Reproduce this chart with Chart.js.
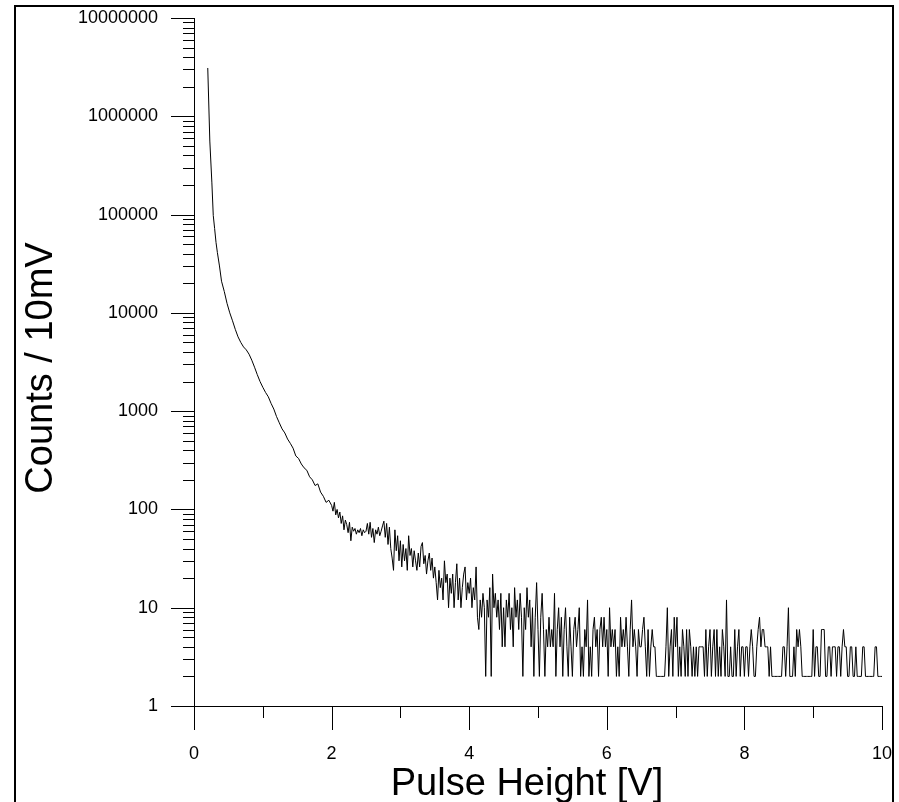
<!DOCTYPE html>
<html>
<head>
<meta charset="utf-8">
<script src="https://cdn.jsdelivr.net/npm/chart.js@4.4.1/dist/chart.umd.min.js"></script>
<style>
  html, body { margin: 0; padding: 0; background: #fff; }
  canvas { display: block; }
</style>
</head>
<body>
<canvas id="espectro" width="899" height="802"></canvas>
<script>
// steep part of the spectrum (V, counts / 10mV)
const headVolts = [0.20, 0.23, 0.26, 0.28, 0.30, 0.32, 0.34, 0.37, 0.40,
  0.44, 0.48, 0.52, 0.56, 0.60, 0.64, 0.68, 0.72, 0.76, 0.80, 0.84, 0.88, 0.92, 0.96, 1.00,
  1.04, 1.08, 1.12, 1.16, 1.20, 1.24, 1.28, 1.32, 1.36, 1.40, 1.44, 1.48, 1.52, 1.56, 1.60,
  1.64, 1.68, 1.72, 1.76, 1.80, 1.84, 1.88, 1.92, 1.96]
const headCounts = [3100000, 560000, 210000, 98000, 72000, 52000, 41000, 30000, 21000,
  16500, 12500, 10000, 8300, 6800, 5700, 5000, 4500, 4200, 3800, 3300, 2800, 2350, 2000, 1750,
  1550, 1400, 1200, 1050, 880, 760, 660, 600, 520, 470, 420, 350, 330, 290, 265,
  250, 215, 200, 175, 182, 150, 136, 118, 124]

// noisy tail, one value every 0.02 V from 2.00 V to 10.00 V
const tailStart = 2.0
const tailStep = 0.02
const tailCounts = [
  110, 96, 118, 88, 100, 82, 94, 72, 86, 62, 78, 70, 58, 74, 48, 66, 60, 64, 56, 62, 58, 64, 54, 62, 58,   // 2.0
  60, 72, 56, 74, 52, 64, 46, 62, 56, 66, 54, 60, 68, 76, 52, 72, 44, 66, 40, 32, 24, 62, 38, 54, 30,      // 2.5
  48, 26, 44, 30, 40, 24, 54, 34, 40, 26, 38, 30, 24, 36, 26, 42, 46, 28, 34, 22, 30, 36, 24, 32, 20,      // 3.0
  26, 18, 12, 24, 16, 20, 12, 30, 18, 22, 10, 20, 14, 22, 10, 18, 28, 12, 20, 10, 16, 22, 26, 12, 18,      // 3.5
  14, 20, 10, 16, 12, 26, 8, 6, 12, 8, 14, 10, 2, 12, 8, 16, 2, 22, 10, 14, 8, 12, 6, 14, 4,               // 4.0
  10, 4, 12, 8, 14, 6, 10, 4, 16, 8, 12, 6, 14, 8, 2, 10, 6, 16, 8, 12, 4, 10, 2, 8, 18,                   // 4.5
  6, 2, 8, 14, 6, 2, 6, 4, 8, 4, 6, 4, 14, 2, 6, 10, 4, 8, 2, 6, 10, 4, 2, 8, 4,                          // 5.0
  2, 6, 8, 4, 6, 10, 2, 4, 2, 6, 4, 12, 2, 4, 2, 6, 8, 4, 6, 2, 6, 8, 4, 8, 4,                            // 5.5
  6, 2, 10, 4, 6, 4, 6, 2, 4, 2, 8, 4, 6, 4, 8, 4, 2, 6, 12, 4, 6, 4, 2, 6, 4,                            // 6.0
  4, 6, 8, 4, 2, 6, 2, 4, 6, 4, 4, 2, 2, 2, 2, 2, 2, 2, 4, 10, 2, 4, 6, 2, 8,                             // 6.5
  4, 8, 2, 4, 2, 6, 4, 2, 6, 2, 6, 4, 2, 4, 2, 4, 2, 4, 4, 4, 4, 2, 6, 2, 4,                              // 7.0
  6, 2, 4, 6, 2, 6, 2, 4, 2, 6, 4, 2, 12, 2, 2, 4, 2, 2, 6, 2, 4, 6, 2, 4, 4,                             // 7.5
  2, 4, 4, 2, 4, 6, 4, 2, 2, 4, 6, 8, 4, 6, 6, 4, 4, 4, 2, 4, 2, 2, 2, 2, 2,                              // 8.0
  2, 2, 2, 4, 4, 2, 4, 10, 2, 2, 2, 4, 2, 6, 4, 6, 4, 2, 2, 2, 2, 2, 2, 2, 2,                             // 8.5
  6, 2, 4, 4, 2, 2, 6, 6, 6, 2, 2, 4, 4, 2, 4, 4, 4, 2, 4, 4, 2, 4, 6, 4, 4,                              // 9.0
  2, 2, 4, 4, 2, 2, 4, 2, 2, 2, 2, 4, 4, 2, 2, 2, 2, 2, 2, 2, 4, 4, 2, 2, 2,                              // 9.5
  2                                                                                                         // 10.0
]

const xTicks = [0, 2, 4, 6, 8, 10]
const xMinorTicks = [1, 3, 5, 7, 9]
const yTicks = [1, 10, 100, 1000, 10000, 100000, 1000000, 10000000]

const xTitle = "Pulse Height [V]"
const yTitle = "Counts / 10mV"

const puntos = headVolts.map((v, i) => ({ x: v, y: headCounts[i] }))
  .concat(tailCounts.map((c, i) => ({ x: +(tailStart + i * tailStep).toFixed(2), y: c })))

const fuente = "Arial, 'Liberation Sans', sans-serif"

// ticks of two lengths, outer frame and axis titles
const marco = {
  id: "marco",
  afterDraw(chart) {
    const { ctx, chartArea, scales } = chart
    const xs = scales.x, ys = scales.y
    ctx.save()
    ctx.strokeStyle = "#000"
    ctx.lineWidth = 1
    ctx.beginPath()
    yTicks.forEach((d, k) => {
      const py = Math.round(ys.getPixelForValue(d)) + 0.5
      ctx.moveTo(chartArea.left - 23, py)
      ctx.lineTo(chartArea.left, py)
      if (k < yTicks.length - 1) {
        for (let m = 2; m <= 9; m++) {
          const pm = Math.round(ys.getPixelForValue(m * d)) + 0.5
          ctx.moveTo(chartArea.left - 11, pm)
          ctx.lineTo(chartArea.left, pm)
        }
      }
    })
    xTicks.forEach(v => {
      const px = Math.round(xs.getPixelForValue(v)) + 0.5
      ctx.moveTo(px, chartArea.bottom)
      ctx.lineTo(px, chartArea.bottom + 24)
    })
    xMinorTicks.forEach(v => {
      const px = Math.round(xs.getPixelForValue(v)) + 0.5
      ctx.moveTo(px, chartArea.bottom)
      ctx.lineTo(px, chartArea.bottom + 12)
    })
    ctx.stroke()

    ctx.lineWidth = 2
    ctx.strokeRect(15, 6, 878, 900)

    ctx.fillStyle = "#000"
    ctx.font = "38px " + fuente
    ctx.textAlign = "center"
    ctx.textBaseline = "alphabetic"
    ctx.fillText(xTitle, 527, 795)
    ctx.translate(52, 368)
    ctx.rotate(-Math.PI / 2)
    ctx.fillText(yTitle, 0, 0)
    ctx.restore()
  }
}

// invisible tick marks keep the labels away from the axes
const gridOculto = (largo) => ({
  display: true,
  drawOnChartArea: false,
  drawTicks: true,
  tickLength: largo,
  tickColor: "rgba(0,0,0,0)"
})

const pintarEspectro = () => {
  new Chart(document.getElementById("espectro"), {
    type: "line",
    data: {
      datasets: [{
        data: puntos,
        borderColor: "#000",
        borderWidth: 1,
        pointRadius: 0,
        tension: 0,
        fill: false
      }]
    },
    options: {
      responsive: false,
      animation: false,
      devicePixelRatio: 1,
      layout: { padding: { left: 0, top: 18, right: 17, bottom: 0 } },
      plugins: { legend: { display: false }, tooltip: { enabled: false } },
      scales: {
        x: {
          type: "linear",
          min: 0,
          max: 10,
          afterBuildTicks: s => { s.ticks = xTicks.map(v => ({ value: v })) },
          afterFit: s => { s.height = 96 },
          grid: gridOculto(37),
          border: { display: true, color: "#000", width: 1 },
          ticks: { color: "#000", font: { family: fuente, size: 18 }, padding: 0, maxRotation: 0, autoSkip: false }
        },
        y: {
          type: "logarithmic",
          min: 1,
          max: 10000000,
          afterBuildTicks: s => { s.ticks = yTicks.map(v => ({ value: v })) },
          afterFit: s => { s.width = 194 },
          grid: gridOculto(36),
          border: { display: true, color: "#000", width: 1 },
          ticks: { color: "#000", font: { family: fuente, size: 18 }, padding: 0, callback: v => String(v) }
        }
      }
    },
    plugins: [marco]
  })
}

window.addEventListener("load", pintarEspectro)
</script>
</body>
</html>
